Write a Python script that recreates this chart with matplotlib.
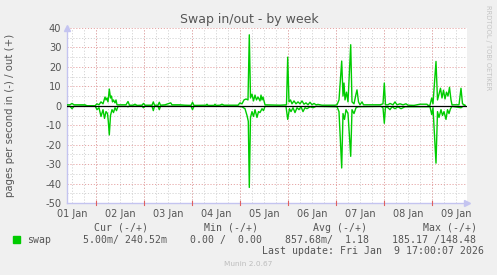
import numpy as np
import matplotlib.pyplot as plt

# hours since 01 Jan 00:00, pages/s swapped out (plotted positive)
out_hours = [9.5, 11, 12, 13, 18.5, 19.5, 23.5, 24.5, 25.5, 26.5, 27.5, 28.5, 29, 29.5, 30,
             30.65, 31.25, 31.75, 32.25, 32.75, 33.5, 34, 34.5, 38, 39, 40, 40.75, 42.5, 43.5,
             44.5, 47, 47.75, 48.5, 52, 52.65, 53.25, 55, 55.65, 56.25, 58.5, 61.35, 62, 66,
             68.5, 71.5, 72.25, 73, 79, 79.5, 80, 83, 83.5, 84, 86, 87, 88, 95, 96, 97, 98, 99,
             100, 100.65, 101.25, 102, 102.75, 103.5, 104.25, 105, 106, 106.5, 107, 107.5, 108.5,
             116, 119.25, 119.85, 120.5, 121.25, 122, 123, 124, 125, 126, 127, 128, 129, 130,
             131, 132, 133, 134, 135, 137, 143.5, 144.5, 145.5, 146.85, 147.5, 148, 148.5,
             149.25, 150, 151.35, 152, 153, 154, 154.5, 155.25, 156, 157, 157.75, 166, 167.5,
             168.15, 168.75, 170, 171, 172.5, 173.5, 174.5, 176, 177.5, 179, 180, 183, 186,
             189.5, 190, 191, 191.85, 192.5, 194, 194.75, 195.5, 196.25, 197, 197.75, 198.5,
             199.25, 200, 200.75, 201.5, 202, 205.5, 206.5, 207.25, 208.5]
out_vals = [0.5, 0.5, 1.2, 0.5, 0.5, 0, 0, 1, 0.5, 2, 1, 4.5, 3, 4, 2,
            8.6, 4, 5, 2, 3, 1.5, 3, 0.5, 0.5, 0.5, 2.2, 0.3, 0.3, 0.8,
            0.2, 0.3, 1.2, 0.3, 0.3, 2, 0.3, 0.3, 1.8, 0.3, 0.5, 1.5, 0.5, 0.5,
            0.3, 0.2, 1.8, 0.2, 0.3, 0.8, 0.2, 0.2, 0.8, 0.2, 0.3, 0.8, 0.3, 0.3, 1.5, 1, 3, 3.5,
            3, 36.5, 4, 6, 2.5, 5.5, 3, 4.5, 2.5, 5.5, 3, 4.5, 0.5,
            0.3, 0.5, 25, 2, 3, 1, 2.5, 1, 2, 1, 2.5, 0.8, 1.5, 0.5,
            1.8, 0.5, 1.2, 0.5, 0.7, 0.3, 0.3, 0.5, 3, 23, 5, 11.7, 3,
            7, 2, 31.4, 2, 1, 6, 8.2, 2, 0.5, 2, 0.5, 0.5, 1,
            11.7, 0.5, 0.5, 1.2, 0.5, 2, 0.5, 1, 0.5, 1, 0.3, 0.2, 0.8,
            0.8, 0.2, 0.3, 4, 1, 22.8, 3, 6, 9, 4, 8, 3.5,
            7, 5, 9.5, 3, 0.5, 0.5, 9, 1, 0.3]

# pages/s swapped in (plotted negative)
in_hours = [9.5, 11, 12, 13, 23.5, 24.5, 25.5, 26.5, 27.5, 28.25, 29, 29.75, 30.15, 30.65,
            31.25, 32, 32.75, 33.5, 34.25, 35, 39.5, 40, 40.5, 47, 47.75, 48.5, 52, 52.65,
            53.25, 55, 55.65, 56.25, 71.5, 72.25, 73, 95, 97, 98.5, 99.5, 100.15, 100.65,
            101.25, 102, 102.75, 103.5, 104.5, 105.25, 106, 107, 107.75, 108.5, 119, 119.85,
            120.75, 121.5, 122.5, 123.5, 124.5, 125.5, 126.5, 127.5, 128.5, 129.5, 131, 132.5,
            134, 144.5, 145.5, 146.85, 147.5, 148.25, 149, 150, 151.35, 152, 153, 154, 155,
            166.5, 167.5, 168.15, 168.75, 170, 171, 172, 173.5, 175, 176.5, 178.5, 191,
            191.85, 192.5, 194, 194.75, 195.5, 196.5, 197.25, 198, 199, 199.75, 200.5,
            201.25, 202, 206.5, 207.5, 208.5]
in_vals = [-0.3, -0.3, -1.5, -0.3, 0, -2, -1, -5.5, -2, -6.5, -3, -4, -8, -15,
           -5, -2, -3.5, -1, -2.5, -0.3, -0.3, -0.5, -0.2, -0.2, -1, -0.2, -0.2, -2.5,
           -0.2, -0.2, -2, -0.2, -0.2, -2, -0.2, -0.3, -0.5, -1.5, -5, -8, -42,
           -6, -3, -5.5, -2, -6, -3, -3.5, -1.5, -2.5, -0.3, -0.3, -7,
           -1.5, -3, -1, -3.5, -1, -2, -0.5, -3, -1, -1.5, -0.5, -1,
           -0.3, -0.5, -3, -32, -4, -7, -2, -4, -26, -2, -4, -1, -0.5,
           -0.3, -1, -9, -0.5, -1, -2, -0.5, -1.5, -0.5, -1.5, -0.5, -0.5,
           -4.5, -1, -29.5, -3, -6, -2, -5, -3, -7, -2, -4,
           -1.5, -0.3, -1, -0.3, 0]

day_labels = ["01 Jan", "02 Jan", "03 Jan", "04 Jan", "05 Jan",
              "06 Jan", "07 Jan", "08 Jan", "09 Jan"]
y_ticks = [-50, -40, -30, -20, -10, 0, 10, 20, 30, 40]

legend_head = ["Cur (-/+)", "Min (-/+)", "Avg (-/+)", "Max (-/+)"]
legend_vals = ["5.00m/ 240.52m", "0.00 /  0.00", "857.68m/  1.18", "185.17 /148.48"]

W, H = 497, 275
green = "#00cc00"
txt = "#555555"
axis_col = "#c4c4f0"

fig = plt.figure(figsize=(W / 100, H / 100), dpi=100, facecolor="#f0f0f0")
ax = fig.add_axes([67 / W, 72 / H, 400 / W, 175 / H])
ax.set_facecolor("white")
ax.set_xlim(9.5, 209.5)
ax.set_ylim(-50, 40)

dots = (0, (1.2, 1.8))
# minor grid
for h in np.arange(12, 210, 6):
    ax.axvline(h, color="#d4d4d4", lw=0.7, ls=dots, zorder=1)
for v in np.arange(-45, 40, 10):
    ax.axhline(v, color="#d4d4d4", lw=0.7, ls=dots, zorder=1)
# major grid
for h in np.arange(24, 210, 24):
    ax.axvline(h, color="#e6a6a6", lw=0.7, ls=dots, zorder=2)
for v in y_ticks:
    ax.axhline(v, color="#e6a6a6", lw=0.7, ls=dots, zorder=2)

ax.plot(out_hours, out_vals, color=green, lw=1, zorder=3)
ax.plot(in_hours, in_vals, color=green, lw=1, zorder=3)
ax.axhline(0, color="black", lw=0.9, zorder=4)

for s in ["top", "right"]:
    ax.spines[s].set_visible(False)
for s in ["left", "bottom"]:
    ax.spines[s].set_color(axis_col)
    ax.spines[s].set_linewidth(1)
ax.plot([0], [1.0], marker="^", ms=5, color=axis_col, transform=ax.transAxes,
        clip_on=False, zorder=5)
ax.plot([1.0], [0], marker=">", ms=5, color=axis_col, transform=ax.transAxes,
        clip_on=False, zorder=5)

ax.set_yticks(y_ticks)
ax.set_yticklabels([str(v) for v in y_ticks], fontsize=7.1, color=txt)
ax.set_xticks([12 + 24 * i for i in range(len(day_labels))])
ax.set_xticklabels(day_labels, fontsize=7, color=txt)
ax.tick_params(axis="both", length=0, pad=4)
# small tick marks on the axes
for h in np.arange(24, 210, 24):
    ax.plot([h, h], [-50.8, -49.2], color="#e06060", lw=0.8, clip_on=False, zorder=5)

ax.set_ylabel("pages per second in (-) / out (+)", fontsize=7.3, color=txt, labelpad=3)
ax.yaxis.set_label_coords(-52 / 400, 0.5)

fig.text(249 / W, 1 - 20 / H, "Swap in/out - by week", fontsize=9, color=txt,
         ha="center", va="center")
fig.text(488 / W, 1 - 5 / H, "RRDTOOL / TOBI OETIKER", fontsize=4.8, color="#c4c4c4",
         rotation=270, ha="center", va="top")

mono = "DejaVu Sans Mono"
fig.patches.append(plt.Rectangle((13 / W, 1 - 243 / H), 7 / W, 7 / H, color=green,
                                 transform=fig.transFigure, figure=fig))
fig.text(27 / W, 1 - 240 / H, "swap", family=mono, fontsize=7.1, color=txt, va="center")
head_x = [94, 204, 313, 423]
val_x = [83, 190, 285, 392]
for x, s in zip(head_x, legend_head):
    fig.text(x / W, 1 - 228 / H, s, family=mono, fontsize=7.1, color=txt, va="center")
for x, s in zip(val_x, legend_vals):
    fig.text(x / W, 1 - 240 / H, s, family=mono, fontsize=7.1, color=txt, va="center")
fig.text(262 / W, 1 - 251 / H, "Last update: Fri Jan  9 17:00:07 2026", family=mono,
         fontsize=7.1, color=txt, va="center")
fig.text(248 / W, 1 - 264 / H, "Munin 2.0.67", fontsize=5.3, color="#bdbdbd",
         ha="center", va="center")

fig.savefig("out.png", dpi=100, facecolor=fig.get_facecolor())
